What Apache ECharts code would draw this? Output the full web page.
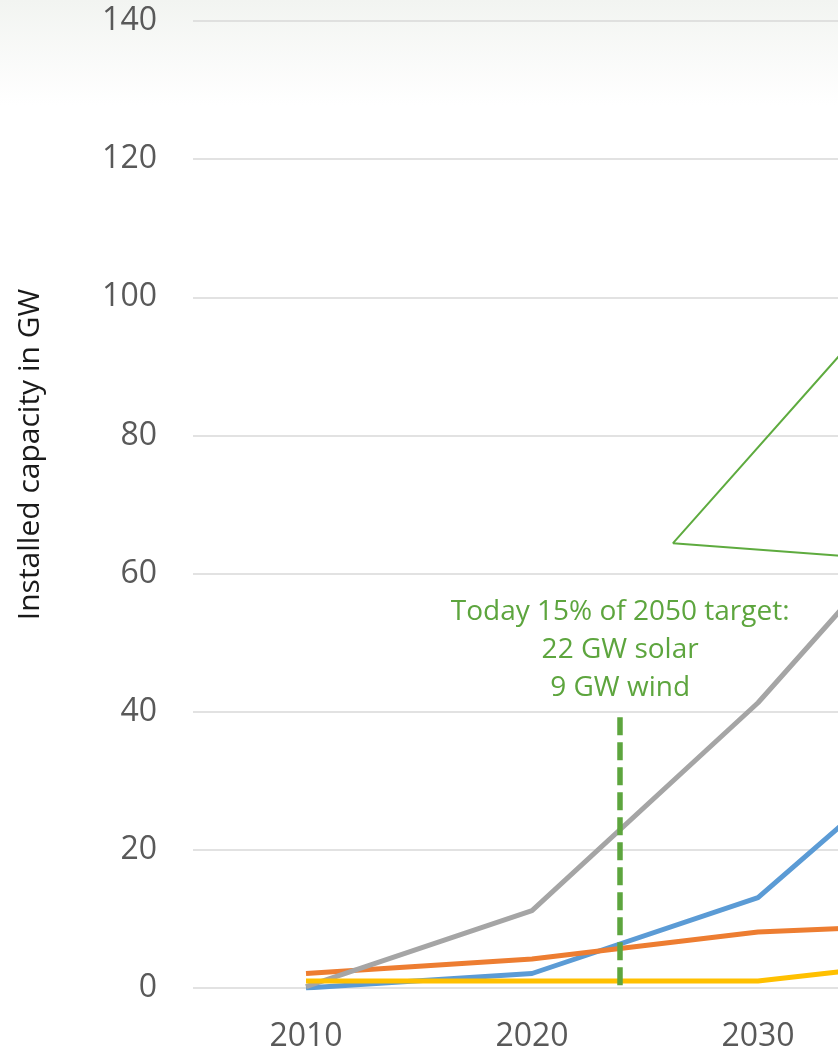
<!DOCTYPE html>
<html>
<head>
<meta charset="utf-8">
<script src="https://cdn.jsdelivr.net/npm/echarts@6/dist/echarts.min.js"></script>
<style>
  html, body { margin: 0; padding: 0; overflow: hidden; width: 838px; height: 1053px;
    background: linear-gradient(to bottom, #F2F4F1 0px, #FFFFFF 105px, #FFFFFF 1053px); }
  #chart { width: 1400px; height: 1053px; }
</style>
</head>
<body>
<div id="chart"></div>
<script>
// ---- data ----
const years = [2010, 2020, 2030, 2040, 2050];
const seriesBlue   = [0.0, 2.1, 13.1, 41.5, 70];
const seriesOrange = [2.1, 4.2, 8.1, 9.5, 10];
const seriesGray   = [0.2, 11.2, 41.3, 78, 120];
const seriesYellow = [1.0, 1.0, 1.0, 4.7, 8];
const yTicks = [0, 20, 40, 60, 80, 100, 120, 140];
const todayYear = 2023.9;
const todayLine = [[todayYear, 0.4], [todayYear, 40]];
const todayText = ['Today 15% of 2050 target:', '22 GW solar', '9 GW wind'];
const calloutPoints = [[2036, 100.4], [2026.24, 64.4], [2036, 62.0]];
const yTitle = 'Installed capacity in GW';

const FONT = 'Open Sans';
const GREEN = '#5DA53E';
const pairs = (arr) => years.map((y, i) => [y, arr[i]]);

const chart = echarts.init(document.getElementById('chart'), null, { renderer: 'canvas' });
const lineSeries = (name, data, color) => ({
  name, type: 'line', data: pairs(data), showSymbol: false, symbol: 'none',
  lineStyle: { color, width: 5, join: 'round' }, itemStyle: { color },
  animation: false, z: 2
});

chart.setOption({
  animation: false,
  grid: { left: 193, top: 21, width: 1130, height: 968, containLabel: false },
  xAxis: {
    type: 'value', min: 2005, max: 2055, interval: 5,
    axisLine: { show: false }, axisTick: { show: false }, splitLine: { show: false },
    axisLabel: {
      margin: 33, color: '#595959', fontFamily: FONT, fontSize: 32,
      formatter: (v) => (v % 10 === 0 ? String(v) : '')
    }
  },
  yAxis: {
    type: 'value', min: yTicks[0], max: yTicks[yTicks.length - 1], interval: yTicks[1] - yTicks[0],
    axisLine: { show: false }, axisTick: { show: false },
    splitLine: { lineStyle: { color: '#D9D9D9', width: 1.5 } },
    axisLabel: { margin: 36, color: '#595959', fontFamily: FONT, fontSize: 32 },
    name: yTitle, nameLocation: 'middle', nameGap: 148, nameRotate: 90,
    nameTextStyle: { color: '#1A1A1A', fontFamily: FONT, fontSize: 30, padding: [0, 0, 0, 100] }
  },
  series: [
    lineSeries('Blue', seriesBlue, '#5B9BD5'),
    lineSeries('Orange', seriesOrange, '#ED7D31'),
    lineSeries('Gray', seriesGray, '#A5A5A5'),
    lineSeries('Yellow', seriesYellow, '#FFC000'),
    {
      name: 'callout', type: 'line', data: calloutPoints, showSymbol: false, symbol: 'none',
      lineStyle: { color: '#5EAB3F', width: 2 }, z: 5, silent: true,
      markLine: {
        silent: true, symbol: ['none', 'none'], animation: false,
        lineStyle: { color: GREEN, width: 5.5, type: [18, 7] },
        label: {
          show: true, position: 'end', distance: 5,
          formatter: todayText.join('\n'),
          color: GREEN, fontFamily: FONT, fontSize: 28, lineHeight: 38, align: 'center'
        },
        data: [[{ coord: todayLine[0] }, { coord: todayLine[1] }]]
      }
    }
  ]
});
</script>
</body>
</html>
